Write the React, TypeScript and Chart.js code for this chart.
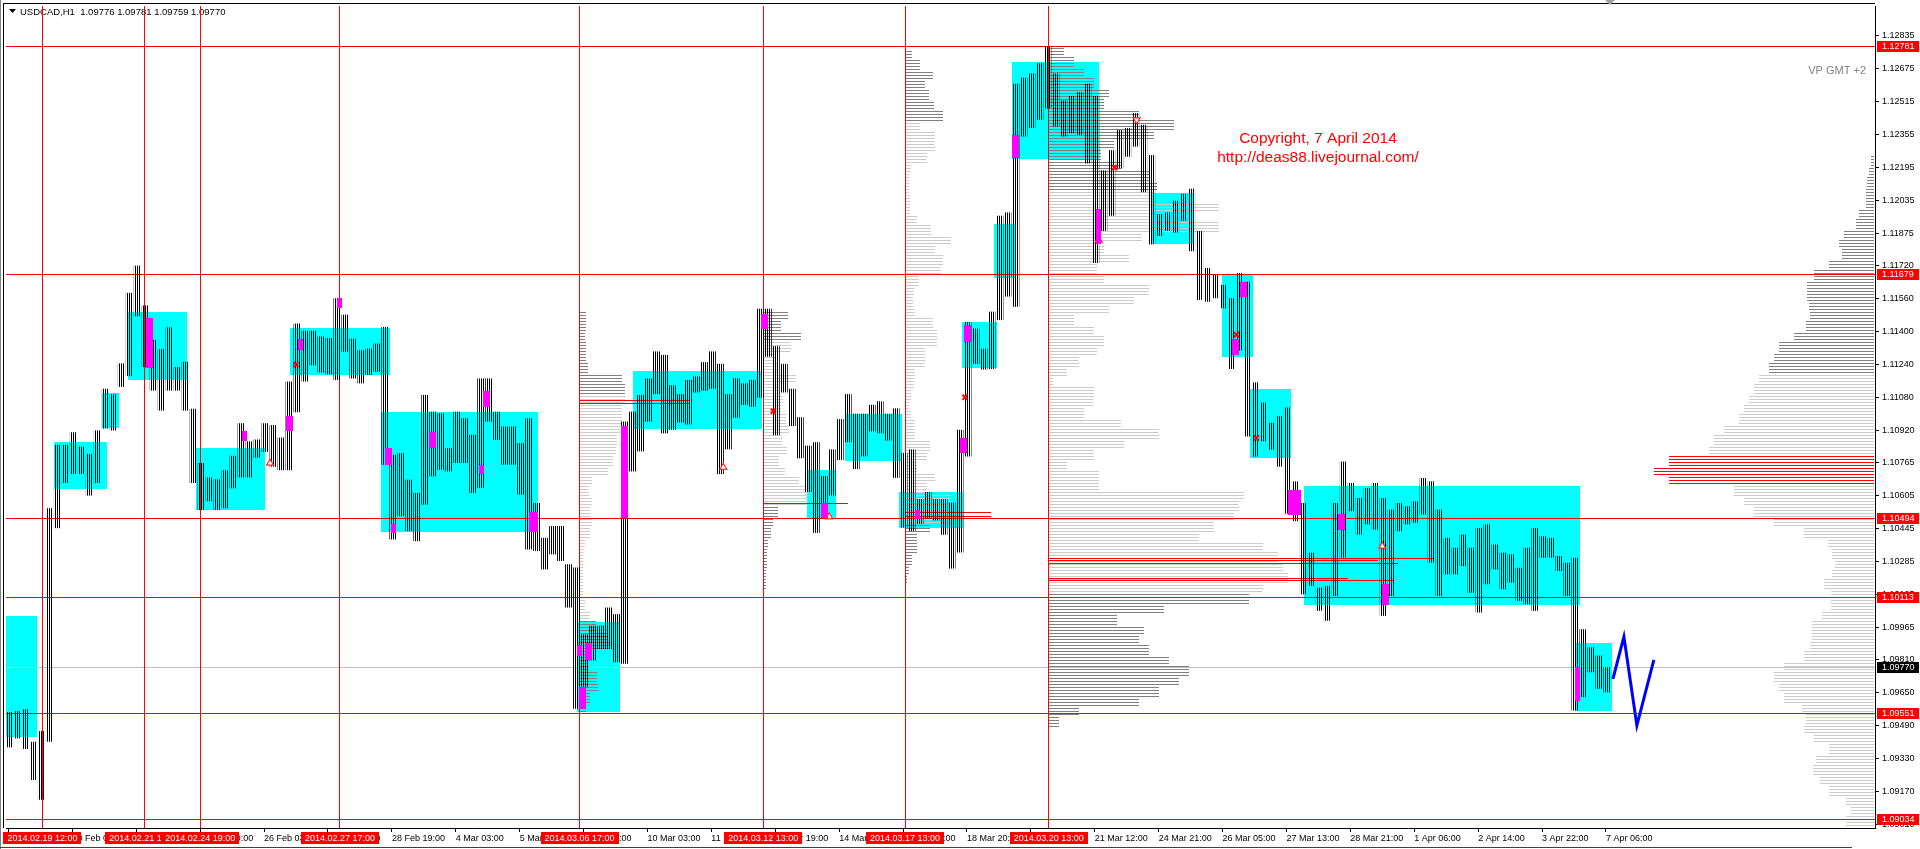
import React, { useEffect, useRef } from 'react';
import { Chart, registerables } from 'chart.js';

Chart.register(...registerables);

const FONT = '"Liberation Sans", Arial, Helvetica, sans-serif';

// ---------- header ----------
const SYMBOL = 'USDCAD,H1';
const LAST_OHLC = [1.09776, 1.09781, 1.09759, 1.0977];
const CURRENT_PRICE = 1.0977;

// ---------- price bars: high / low of each group of 4 H1 bars ----------
const BARS_PER_GROUP = 4;
const GROUP_HIGH = [
  1.09553, 1.09558, 1.09567, 1.09409, 1.09461, 1.10541, 1.10849, 1.10849, 1.1091, 1.1084,
  1.10805, 1.10919, 1.11121, 1.11094, 1.11244, 1.11586, 1.11718, 1.11525, 1.11358, 1.11314,
  1.11419, 1.11226, 1.11252, 1.11024, 1.10761, 1.10691, 1.10682, 1.10726, 1.10796, 1.10954,
  1.10866, 1.10875, 1.10954, 1.10945, 1.10884, 1.11156, 1.11437, 1.11402, 1.11402, 1.11375,
  1.11367, 1.1156, 1.1148, 1.11364, 1.11308, 1.11316, 1.1134, 1.1142, 1.10801, 1.10809,
  1.1068, 1.10616, 1.11091, 1.1101, 1.11002, 1.10833, 1.1101, 1.10978, 1.10898, 1.11171,
  1.11171, 1.1101, 1.10938, 1.10938, 1.10857, 1.10978, 1.10567, 1.10398, 1.10455, 1.10455,
  1.1027, 1.10254, 1.09931, 1.09972, 1.09972, 1.1006, 1.10028, 1.10962, 1.1101, 1.11091,
  1.11171, 1.11302, 1.11285, 1.11138, 1.11095, 1.11164, 1.11181, 1.1125, 1.11302, 1.11242,
  1.11095, 1.11172, 1.11147, 1.11164, 1.11509, 1.11509, 1.11328, 1.11242, 1.11121, 1.10983,
  1.10845, 1.10862, 1.10698, 1.10827, 1.10974, 1.11095, 1.11, 1.11, 1.11043, 1.1106,
  1.11, 1.11026, 1.1081, 1.10827, 1.10586, 1.1062, 1.10586, 1.10586, 1.10569, 1.10922,
  1.11445, 1.11413, 1.11315, 1.11495, 1.1196, 1.11976, 1.126, 1.1263, 1.1265, 1.127,
  1.12781, 1.1265, 1.1252, 1.1254, 1.1256, 1.126, 1.1254, 1.1218, 1.12278, 1.12376,
  1.12385, 1.12458, 1.12401, 1.12254, 1.11968, 1.11976, 1.12033, 1.12066, 1.12091, 1.11886,
  1.11707, 1.11674, 1.11625, 1.1156, 1.11682, 1.11641, 1.11152, 1.11054, 1.10956, 1.10988,
  1.1103, 1.10672, 1.10567, 1.10326, 1.10157, 1.10165, 1.10567, 1.10768, 1.10664, 1.10591,
  1.1064, 1.10664, 1.10591, 1.10535, 1.10567, 1.10551, 1.10575, 1.10688, 1.10672, 1.10535,
  1.10398, 1.1035, 1.10414, 1.1035, 1.10446, 1.10463, 1.10366, 1.10326, 1.10318, 1.10253,
  1.1035, 1.10446, 1.10406, 1.10398, 1.1031, 1.10277, 1.10302, 1.09955, 1.09867, 1.09827,
  1.0977,
];
const GROUP_LOW = [
  1.09382, 1.09426, 1.09374, 1.09224, 1.09128, 1.09409, 1.10445, 1.10664, 1.10708, 1.10708,
  1.10603, 1.10664, 1.10928, 1.10919, 1.1113, 1.11182, 1.11472, 1.11226, 1.11112, 1.11015,
  1.11112, 1.11112, 1.11015, 1.10664, 1.10533, 1.10576, 1.10533, 1.10541, 1.10638, 1.10691,
  1.10691, 1.10787, 1.10814, 1.10743, 1.10726, 1.10726, 1.11007, 1.11156, 1.11235, 1.112,
  1.11191, 1.11163, 1.113, 1.11171, 1.11147, 1.11187, 1.11203, 1.10753, 1.1039, 1.10503,
  1.10431, 1.10382, 1.10559, 1.10696, 1.10728, 1.1072, 1.10761, 1.10761, 1.10616, 1.1064,
  1.10962, 1.10873, 1.10753, 1.10753, 1.10608, 1.10342, 1.10334, 1.10245, 1.10318, 1.10286,
  1.1006, 1.09569, 1.09674, 1.09803, 1.09859, 1.09859, 1.09795, 1.09787, 1.1072, 1.10817,
  1.10962, 1.11095, 1.10905, 1.10922, 1.10957, 1.10948, 1.11103, 1.11112, 1.11121, 1.10707,
  1.10827, 1.1098, 1.11043, 1.11034, 1.11078, 1.11276, 1.10896, 1.11103, 1.1094, 1.10784,
  1.1062, 1.10422, 1.105, 1.10603, 1.10776, 1.10862, 1.10732, 1.10793, 1.10914, 1.10905,
  1.1087, 1.10689, 1.10448, 1.10431, 1.10465, 1.10491, 1.10482, 1.10413, 1.10249, 1.10327,
  1.10792, 1.11241, 1.11214, 1.11217, 1.11454, 1.11568, 1.11519, 1.12344, 1.12385, 1.12425,
  1.1248, 1.12393, 1.12344, 1.1236, 1.12352, 1.12213, 1.11731, 1.11886, 1.1196, 1.12189,
  1.12246, 1.12295, 1.12074, 1.11821, 1.11862, 1.11886, 1.11878, 1.11935, 1.11788, 1.11552,
  1.11543, 1.1156, 1.11511, 1.11217, 1.11307, 1.1089, 1.10792, 1.10866, 1.10825, 1.10743,
  1.10515, 1.10479, 1.10124, 1.10165, 1.10044, 1.09996, 1.10116, 1.10302, 1.10527, 1.10414,
  1.10463, 1.10438, 1.1002, 1.10116, 1.1043, 1.10463, 1.10471, 1.10511, 1.10277, 1.10116,
  1.10221, 1.10221, 1.10261, 1.10132, 1.10036, 1.10173, 1.10245, 1.10149, 1.10181, 1.10092,
  1.10076, 1.10044, 1.10302, 1.10302, 1.10237, 1.10116, 1.09561, 1.09625, 1.09746, 1.09666,
  1.09649,
];

// ---------- axes ----------
const X_MIN = -0.25;
const X_MAX = 935.75;
const Y_MIN = 1.08991;
const Y_MAX = 1.12977;
const X_TICK_BARS = [1, 33, 65, 97, 129, 161, 193, 225, 257, 289, 321, 353, 385, 417, 449, 481, 513, 545, 577, 609, 641, 673, 705, 737, 769, 801];
const X_TICK_LABELS = [
  '18 Feb 19:00', '20 Feb 03:00', '21 Feb 11:00', '24 Feb 19:00', '26 Feb 03:00', '27 Feb 11:00',
  '28 Feb 19:00', '4 Mar 03:00', '5 Mar 11:00', '6 Mar 19:00', '10 Mar 03:00', '11 Mar 11:00',
  '12 Mar 19:00', '14 Mar 03:00', '17 Mar 11:00', '18 Mar 20:00', '20 Mar 04:00', '21 Mar 12:00',
  '24 Mar 21:00', '26 Mar 05:00', '27 Mar 13:00', '28 Mar 21:00', '1 Apr 06:00', '2 Apr 14:00',
  '3 Apr 22:00', '7 Apr 06:00',
];
const Y_TICKS = [
  1.12835, 1.12675, 1.12515, 1.12355, 1.12195, 1.12035, 1.11875, 1.1172, 1.1156, 1.114, 1.1124,
  1.1108, 1.1092, 1.10765, 1.10605, 1.10445, 1.10285, 1.10125, 1.09965, 1.0981, 1.0965, 1.0949,
  1.0933, 1.0917, 1.0901,
];

// ---------- levels and event lines ----------
const LEVELS = [1.12781, 1.11679, 1.10494, 1.10113, 1.09551, 1.09034];
const EVENT_BARS = [18, 69, 97, 167, 287, 379, 450, 522];
const EVENT_LABELS = [
  '2014.02.19 12:00', '2014.02.21 15:00', '2014.02.24 19:00', '2014.02.27 17:00',
  '2014.03.06 17:00', '2014.03.12 13:00', '2014.03.17 13:00', '2014.03.20 13:00',
];

// ---------- cyan boxes (bar range, price range) ----------
const BOX_FROM = [0, 24, 48, 61, 95, 142, 188, 286, 314, 401, 420, 447, 479, 495, 504, 574, 609, 623, 650, 786];
const BOX_TO = [15, 50, 56, 90, 129, 192, 266, 307, 378, 415, 448, 479, 496, 505, 547, 594, 624, 643, 788, 804];
const BOX_LOW = [1.0943, 1.10636, 1.10933, 1.11163, 1.10533, 1.11186, 1.10428, 1.09554, 1.10926, 1.10494, 1.1077, 1.10448, 1.11223, 1.11658, 1.12237, 1.11822, 1.11276, 1.10783, 1.10071, 1.09556];
const BOX_HIGH = [1.1002, 1.10861, 1.11098, 1.11493, 1.10836, 1.11416, 1.11006, 1.09988, 1.11209, 1.10727, 1.11, 1.1062, 1.11445, 1.11919, 1.12706, 1.12068, 1.11672, 1.11122, 1.10648, 1.0989];

// ---------- magenta markers ----------
const MARK_FROM = [70, 118, 140, 146, 166, 190, 193, 212, 239, 237, 262, 286, 290, 287, 308, 378, 408, 455, 478, 480, 504, 546, 618, 614, 642, 667, 689, 786];
const MARK_TO = [73, 120, 143, 148, 168, 193, 195, 215, 242, 239, 266, 288, 293, 290, 311, 381, 411, 457, 481, 483, 507, 548, 621, 617, 648, 670, 692, 788];
const MARK_LOW = [1.11223, 1.1087, 1.10915, 1.1131, 1.11513, 1.10753, 1.10423, 1.10833, 1.11034, 1.10708, 1.10427, 1.09827, 1.09806, 1.09569, 1.10495, 1.11409, 1.10496, 1.10491, 1.1081, 1.11348, 1.12238, 1.11821, 1.11568, 1.11285, 1.10508, 1.10435, 1.10074, 1.09609];
const MARK_HIGH = [1.11465, 1.10915, 1.10991, 1.11361, 1.1156, 1.10833, 1.10466, 1.10909, 1.11112, 1.10753, 1.10522, 1.0988, 1.09886, 1.09674, 1.10938, 1.11483, 1.10569, 1.10534, 1.10884, 1.11429, 1.12352, 1.11993, 1.11641, 1.11364, 1.10628, 1.10512, 1.10174, 1.0977];

// ---------- signals ----------
const CROSS_BAR = [145, 384, 480, 555, 616, 626];
const CROSS_PRICE = [1.11238, 1.11012, 1.1108, 1.12193, 1.11383, 1.10882];
const ARROW_UP_BAR = [132, 359, 412, 547, 689];
const ARROW_UP_PRICE = [1.1076, 1.1074, 1.105, 1.11842, 1.10358];
const ARROW_DOWN_BAR = [566];
const ARROW_DOWN_PRICE = [1.12425];

// ---------- forecast zigzag ----------
const ZIGZAG_BAR = [804.5, 810, 816.5, 825];
const ZIGZAG_PRICE = [1.09714, 1.09918, 1.09488, 1.09806];

// ---------- volume profiles (0.0005 price bands from the top) ----------
const PROFILE_STEP = 0.0005;
const VOL_TO_BARS = 0.5;
const P1_VOL = [6, 6, 5, 6, 6, 8, 42, 45, 45, 42, 42, 40, 37, 36, 33, 28, 12, 9, 12, 10, 12, 10, 5, 3, 3, 3, 3, 3, 5, 10, 16, 28, 30, 8, 7, 17, 18, 10, 6];
const P2_VOL = [25, 18, 38, 28, 12, 15, 33, 16, 20, 18, 23, 26, 19, 24, 16, 22, 36, 46, 45, 15, 10, 8, 5, 4, 4, 3, 3];
const P3_VOL = [7, 15, 28, 20, 24, 29, 38, 15, 30, 30, 22, 6, 4, 4, 5, 5, 12, 26, 46, 30, 38, 36, 14, 9, 8, 10, 28, 32, 32, 20, 20, 10, 9, 6, 4, 6, 10, 10, 25, 22, 12, 30, 22, 45, 40, 42, 25, 12, 12, 7, 4, 2];
const P4_VOL = [15, 25, 35, 45, 60, 55, 90, 125, 105, 65, 52, 72, 100, 108, 105, 170, 100, 170, 93, 55, 80, 48, 55, 100, 85, 60, 25, 45, 55, 48, 30, 18, 4, 45, 44, 35, 72, 110, 75, 45, 18, 50, 50, 195, 190, 185, 165, 150, 215, 230, 235, 240, 215, 200, 115, 68, 95, 90, 100, 120, 140, 130, 110, 90, 30, 10];
const P5_VOL = [3, 5, 7, 8, 8, 15, 18, 30, 35, 32, 45, 60, 67, 67, 65, 64, 68, 80, 95, 100, 105, 115, 120, 125, 130, 135, 150, 160, 165, 205, 220, 205, 140, 130, 120, 100, 70, 46, 42, 39, 42, 50, 43, 43, 52, 62, 62, 64, 70, 90, 100, 95, 90, 72, 68, 70, 60, 45, 58, 61, 54, 45, 28, 23, 28];
const PROFILE_VOL = [P1_VOL, P2_VOL, P3_VOL, P4_VOL, P5_VOL];
const PROFILE_ANCHOR = [287, 379, 450, 522, 935.25];
const PROFILE_TOP = [1.115, 1.115, 1.1277, 1.1278, 1.1225];
const PROFILE_LEFTWARD = [false, false, false, false, true];
const PROFILE_DARK = [
  [[1.1112, 1.116], [1.094, 1.1]],
  [[1.11345, 1.116], [1.1, 1.1055]],
  [[1.1242, 1.129], [1.1, 1.1046]],
  [[1.1207, 1.129], [1.094, 1.1011]],
  [[1.112, 1.123]],
];
const PROFILE_RED = [null, null, null, null, [[1.1065, 1.1081]]];
const PROFILE_LINE_PRICE = [1.11067, 1.11054, 1.10569, 1.10522, 1.10505, 1.10302, 1.10289, 1.10278, 1.10204, 1.10193];
const PROFILE_LINE_FROM = [287, 287, 379, 450, 450, 522, 522, 522, 522, 522];
const PROFILE_LINE_VOL = [110, 110, 85, 86, 86, 385, 330, 350, 300, 345];

function inRanges(p: number, ranges: number[][] | null): boolean {
  if (!ranges) return false;
  for (const r of ranges) if (p >= r[0] && p <= r[1]) return true;
  return false;
}

const overlayPlugin = {
  id: 'mt4Overlay',
  beforeDatasetsDraw(chart: any) {
    const { ctx, chartArea: a } = chart;
    const xs = chart.scales.x;
    const ys = chart.scales.y;
    const px = (v: number) => xs.getPixelForValue(v);
    const py = (v: number) => ys.getPixelForValue(v);
    ctx.save();
    ctx.beginPath();
    ctx.rect(a.left, a.top, a.right - a.left, a.bottom - a.top);
    ctx.clip();

    // header text
    ctx.fillStyle = '#000';
    ctx.beginPath();
    ctx.moveTo(9, 9);
    ctx.lineTo(16, 9);
    ctx.lineTo(12.5, 13);
    ctx.closePath();
    ctx.fill();
    ctx.font = '9.5px ' + FONT;
    ctx.textAlign = 'left';
    ctx.textBaseline = 'middle';
    ctx.fillText(SYMBOL + '  ' + LAST_OHLC.map((v) => v.toFixed(5)).join(' '), 20, 12);

    // boxes
    ctx.fillStyle = '#00ffff';
    for (let i = 0; i < BOX_FROM.length; i++) {
      const x0 = Math.round(px(BOX_FROM[i]) - 0.5);
      const x1 = Math.round(px(BOX_TO[i]) + 0.5);
      const y0 = Math.round(py(BOX_HIGH[i]));
      const y1 = Math.round(py(BOX_LOW[i]));
      ctx.fillRect(x0, y0, x1 - x0, y1 - y0);
    }

    // volume profiles
    for (let p = 0; p < PROFILE_VOL.length; p++) {
      const vols = PROFILE_VOL[p];
      const anchor = PROFILE_ANCHOR[p];
      for (let k = 0; k < vols.length; k++) {
        const pTop = PROFILE_TOP[p] - k * PROFILE_STEP;
        const pBot = pTop - PROFILE_STEP;
        const mid = (pTop + pBot) / 2;
        let color = inRanges(mid, PROFILE_DARK[p]) ? '#808080' : '#cccccc';
        if (inRanges(mid, PROFILE_RED[p] as any)) color = '#ff0000';
        const len = vols[k] * VOL_TO_BARS;
        const xa = Math.round(px(anchor));
        const xb = Math.round(px(PROFILE_LEFTWARD[p] ? anchor - len : anchor + len));
        const x0 = Math.min(xa, xb);
        const w = Math.max(1, Math.abs(xb - xa));
        const yT = py(pTop);
        const yB = py(pBot);
        ctx.fillStyle = color;
        for (let y = Math.ceil(yT); y < yB; y++) {
          if (y % 3 === 0) ctx.fillRect(x0, y, w, 1);
        }
      }
    }
    ctx.fillStyle = '#ff0000';
    for (let i = 0; i < PROFILE_LINE_PRICE.length; i++) {
      const y = Math.round(py(PROFILE_LINE_PRICE[i]));
      const x0 = Math.round(px(PROFILE_LINE_FROM[i]));
      const x1 = Math.round(px(PROFILE_LINE_FROM[i] + PROFILE_LINE_VOL[i] * VOL_TO_BARS));
      ctx.fillRect(x0, y, x1 - x0, 1);
    }

    // current price line
    ctx.fillStyle = '#c0c0c0';
    ctx.fillRect(a.left, Math.round(py(CURRENT_PRICE)), a.right - a.left, 1);
    // levels
    ctx.fillStyle = '#ff0000';
    for (const lv of LEVELS) ctx.fillRect(a.left, Math.round(py(lv)), a.right - a.left, 1);
    for (const b of EVENT_BARS) ctx.fillRect(Math.floor(px(b)), a.top, 1, a.bottom - a.top);
    ctx.restore();
  },
  afterDatasetsDraw(chart: any) {
    const { ctx, chartArea: a } = chart;
    const xs = chart.scales.x;
    const ys = chart.scales.y;
    const px = (v: number) => xs.getPixelForValue(v);
    const py = (v: number) => ys.getPixelForValue(v);
    ctx.save();
    ctx.beginPath();
    ctx.rect(a.left, a.top, a.right - a.left, a.bottom - a.top);
    ctx.clip();
    ctx.fillStyle = '#ff00ff';
    for (let i = 0; i < MARK_FROM.length; i++) {
      const x0 = Math.round(px(MARK_FROM[i]) - 0.5);
      const x1 = Math.round(px(MARK_TO[i]) + 0.5);
      const y0 = Math.round(py(MARK_HIGH[i]));
      const y1 = Math.round(py(MARK_LOW[i]));
      ctx.fillRect(x0, y0, x1 - x0, Math.max(2, y1 - y0));
    }
    ctx.restore();
  },
  afterDraw(chart: any) {
    const { ctx, chartArea: a } = chart;
    const xs = chart.scales.x;
    const ys = chart.scales.y;
    const px = (v: number) => xs.getPixelForValue(v);
    const py = (v: number) => ys.getPixelForValue(v);
    ctx.save();
    // frame
    ctx.fillStyle = '#000';
    ctx.fillRect(3, 3, a.right - 3, 1);
    ctx.fillRect(3, 3, 1, a.bottom - 3);
    ctx.fillStyle = '#808080';
    ctx.fillRect(0, 0, 1, 849);
    ctx.fillStyle = '#404040';
    ctx.fillRect(0, 847, 1852, 1);
    // chart shift marker
    ctx.fillStyle = '#a0a0a0';
    ctx.beginPath();
    ctx.moveTo(1605, 0);
    ctx.lineTo(1615, 0);
    ctx.lineTo(1610, 5);
    ctx.closePath();
    ctx.fill();

    ctx.font = '9px ' + FONT;
    ctx.textBaseline = 'middle';
    // event date labels
    ctx.textAlign = 'center';
    for (let i = 0; i < EVENT_BARS.length; i++) {
      const x = px(EVENT_BARS[i]);
      const w = ctx.measureText(EVENT_LABELS[i]).width + 8;
      ctx.fillStyle = '#ff0000';
      ctx.fillRect(Math.round(x - w / 2), 832, Math.round(w), 12);
      ctx.fillStyle = '#ffffff';
      ctx.fillText(EVENT_LABELS[i], x, 838.5);
    }
    // price labels
    ctx.textAlign = 'left';
    for (const lv of LEVELS) {
      const y = Math.round(py(lv)) + 0.5;
      ctx.fillStyle = '#ff0000';
      ctx.fillRect(1877, Math.round(y - 5.5), 42, 11);
      ctx.fillStyle = '#ffffff';
      ctx.fillText(lv.toFixed(5), 1882, y);
    }
    {
      const y = Math.round(py(CURRENT_PRICE)) + 0.5;
      ctx.fillStyle = '#000000';
      ctx.fillRect(1877, Math.round(y - 5.5), 42, 11);
      ctx.fillStyle = '#ffffff';
      ctx.fillText(CURRENT_PRICE.toFixed(5), 1882, y);
    }
    // texts
    ctx.fillStyle = '#ff0000';
    ctx.font = '15.5px ' + FONT;
    ctx.textAlign = 'center';
    ctx.fillText('Copyright, 7 April 2014', 1318, 139);
    ctx.fillText('http://deas88.livejournal.com/', 1318, 158);
    ctx.fillStyle = '#808080';
    ctx.font = '11px ' + FONT;
    ctx.textAlign = 'right';
    ctx.fillText('VP GMT +2', 1866, 71);
    ctx.restore();
  },
};

export default function App() {
  const canvasRef = useRef<HTMLCanvasElement | null>(null);

  useEffect(() => {
    const canvas = canvasRef.current;
    if (!canvas) return;
    const ctx = canvas.getContext('2d');
    if (!ctx) return;
    const tile = document.createElement('canvas');
    tile.width = 2;
    tile.height = 1;
    const tctx = tile.getContext('2d') as CanvasRenderingContext2D;
    tctx.fillStyle = '#000000';
    tctx.fillRect(1, 0, 1, 1);
    const stripes = ctx.createPattern(tile, 'repeat');

    const barData = GROUP_HIGH.map((h, g) => ({
      x: g * BARS_PER_GROUP + (BARS_PER_GROUP - 1) / 2,
      y: [GROUP_LOW[g], h],
    }));
    const zigzag = ZIGZAG_BAR.map((b, i) => ({ x: b, y: ZIGZAG_PRICE[i] }));
    const crosses = CROSS_BAR.map((b, i) => ({ x: b, y: CROSS_PRICE[i] }));
    const upArrows = ARROW_UP_BAR.map((b, i) => ({ x: b, y: ARROW_UP_PRICE[i] }));
    const downArrows = ARROW_DOWN_BAR.map((b, i) => ({ x: b, y: ARROW_DOWN_PRICE[i] }));

    const chart = new Chart(canvas, {
      type: 'bar',
      data: {
        datasets: [
          {
            type: 'line',
            data: zigzag,
            borderColor: '#0000ff',
            borderWidth: 3,
            pointRadius: 0,
            tension: 0,
            fill: false,
            order: 0,
          } as any,
          {
            type: 'scatter',
            data: crosses,
            pointStyle: 'crossRot',
            pointRadius: 3.5,
            pointBorderColor: '#ff0000',
            pointBorderWidth: 2,
            order: 1,
          } as any,
          {
            type: 'scatter',
            data: upArrows,
            pointStyle: 'triangle',
            pointRadius: 4,
            pointBackgroundColor: '#ffffff',
            pointBorderColor: '#ff3020',
            pointBorderWidth: 1.2,
            order: 2,
          } as any,
          {
            type: 'scatter',
            data: downArrows,
            pointStyle: 'triangle',
            pointRotation: 180,
            pointRadius: 4,
            pointBackgroundColor: '#ffffff',
            pointBorderColor: '#ff3020',
            pointBorderWidth: 1.2,
            order: 2,
          } as any,
          {
            type: 'bar',
            data: barData,
            backgroundColor: stripes,
            barThickness: 7,
            grouped: false,
            inflateAmount: 0,
            borderWidth: 0,
            order: 5,
          } as any,
        ],
      },
      options: {
        animation: false,
        responsive: false,
        devicePixelRatio: 1,
        events: [],
        layout: { padding: { left: 3, top: 3, right: 0, bottom: 0 } },
        plugins: {
          legend: { display: false },
          tooltip: { enabled: false },
          title: { display: false },
        },
        scales: {
          x: {
            type: 'linear',
            position: 'bottom',
            min: X_MIN,
            max: X_MAX,
            offset: false,
            stacked: false,
            grid: {
              display: true,
              drawOnChartArea: false,
              drawTicks: true,
              tickLength: 4,
              tickColor: '#000000',
              color: '#000000',
              offset: false,
            },
            border: { display: true, color: '#000000', width: 1 },
            ticks: {
              autoSkip: false,
              maxRotation: 0,
              minRotation: 0,
              align: 'start',
              padding: 1,
              color: '#000000',
              font: { family: FONT, size: 9 },
              callback: (_v: any, i: number) => X_TICK_LABELS[i] ?? '',
            },
            afterBuildTicks: (s: any) => {
              s.ticks = X_TICK_BARS.map((v) => ({ value: v }));
            },
            afterFit: (s: any) => {
              s.height = 21;
              s.paddingLeft = 0;
              s.paddingRight = 0;
            },
          } as any,
          y: {
            type: 'linear',
            position: 'right',
            min: Y_MIN,
            max: Y_MAX,
            beginAtZero: false,
            stacked: false,
            grid: {
              display: true,
              drawOnChartArea: false,
              drawTicks: true,
              tickLength: 4,
              tickColor: '#000000',
              color: '#000000',
            },
            border: { display: true, color: '#000000', width: 1 },
            ticks: {
              padding: 3,
              color: '#000000',
              font: { family: FONT, size: 9 },
              callback: (v: any) => Number(v).toFixed(5),
            },
            afterBuildTicks: (s: any) => {
              s.ticks = Y_TICKS.map((v) => ({ value: v }));
            },
            afterFit: (s: any) => {
              s.width = 45;
              s.paddingTop = 0;
              s.paddingBottom = 0;
            },
          } as any,
        },
      } as any,
      plugins: [overlayPlugin as any],
    });

    return () => {
      chart.destroy();
    };
  }, []);

  return (
    <div
      style={{
        position: 'fixed',
        left: 0,
        top: 0,
        width: 1920,
        height: 849,
        background: '#ffffff',
        overflow: 'hidden',
      }}
    >
      <canvas ref={canvasRef} width={1920} height={849} style={{ display: 'block' }} />
    </div>
  );
}
